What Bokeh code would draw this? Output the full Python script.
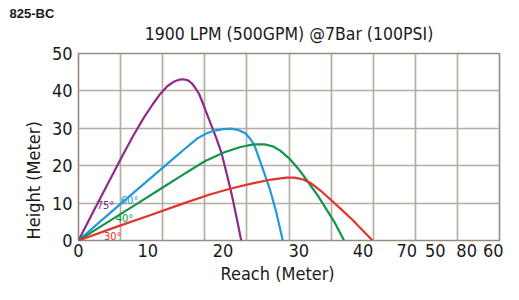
import numpy as np
from bokeh.plotting import figure
from bokeh.models import Range1d, FixedTicker, Title, LinearAxis
from bokeh.core.properties import value
from bokeh.embed import file_html
from bokeh.resources import INLINE

# ---------------- data ----------------
model_text = "825-BC"
title_text = "1900 LPM (500GPM) @7Bar (100PSI)"
x_title = "Reach  (Meter)"
y_title = "Height (Meter)"

x_tick_labels = ["0", "10", "20", "30", "40", "70", "50", "80", "60"]
x_tick_pos = [0, 9.5, 19.8, 30.2, 39.0, 45.0, 48.9, 53.2, 57.0]
y_ticks = [0, 10, 20, 30, 40, 50]

reach_75 = [0, 2.0, 4.0, 6.0, 7.5, 9.0, 10.2, 11.2, 12.2, 13.2, 13.8, 14.4, 15.0, 15.5, 15.9, 16.5, 17.0, 17.9, 18.9, 19.6, 20.45, 21.1, 21.8, 22.3]
height_75 = [0, 7.6, 15.1, 22.6, 28.0, 33.0, 36.5, 39.2, 41.3, 42.6, 43.0, 43.1, 42.8, 42.1, 41.1, 39.3, 36.9, 32.3, 27.3, 23.4, 16.8, 11.4, 4.9, 0]

reach_60 = [0, 3, 6, 9, 12, 14.5, 16.3, 17.5, 18.6, 19.8, 20.9, 22.0, 22.9, 23.6, 24.1, 25.0, 26.2, 27.1, 28.0]
height_60 = [0, 5.1, 10.2, 15.2, 20.2, 24.4, 27.3, 28.6, 29.4, 29.8, 29.9, 29.5, 28.6, 27.0, 25.5, 20.6, 13.9, 7.6, 0]

reach_40 = [0, 4, 8, 11, 14.5, 17.3, 20, 22.2, 24.0, 25.5, 26.6, 27.6, 28.9, 30.2, 31.6, 32.8, 33.9, 35.2, 36.4]
height_40 = [0, 4.9, 9.8, 13.5, 17.8, 21.2, 23.6, 25.0, 25.7, 25.7, 25.2, 24.1, 21.9, 19.0, 15.3, 12.0, 8.6, 4.5, 0]

reach_30 = [0, 5, 10, 14.5, 18, 20.9, 23.7, 26.4, 28.5, 29.6, 30.8, 31.8, 33.2, 34.8, 36.2, 37.5, 38.9, 40.3]
height_30 = [0, 3.5, 6.9, 10.0, 12.3, 13.9, 15.2, 16.3, 16.8, 16.8, 16.3, 15.4, 13.3, 10.5, 8.0, 5.6, 2.8, 0]

angle_labels = ["75°", "60°", "40°", "30°"]
angle_label_x = [3.7, 7.0, 6.3, 4.7]
angle_label_y = [9.4, 10.6, 5.9, 1.1]

colors = ["#8c2b8c", "#1f9ad8", "#14934b", "#e2332c"]

# ---------------- figure ----------------
X_MAX = 57.7
FONT = "DejaVu Sans Condensed"
INK = "#1a1a1a"

p = figure(width=503, height=284, output_backend="svg", toolbar_location=None,
           x_range=Range1d(0, X_MAX), y_range=Range1d(0, 50),
           min_border_left=78, min_border_right=4, min_border_top=53, min_border_bottom=44)
p.background_fill_color = "white"
p.border_fill_color = "white"
p.outline_line_color = "#978b80"
p.outline_line_width = 1.6

grid_color = "#b5aca2"
p.xgrid.ticker = FixedTicker(ticks=list(np.linspace(0, X_MAX, 11)))
p.ygrid.ticker = FixedTicker(ticks=y_ticks)
for g in (p.xgrid, p.ygrid):
    g.grid_line_color = grid_color
    g.grid_line_width = 1.7

p.xaxis.ticker = FixedTicker(ticks=x_tick_pos)
p.xaxis.major_label_overrides = {pos: lab for pos, lab in zip(x_tick_pos, x_tick_labels)}
p.yaxis.ticker = FixedTicker(ticks=y_ticks)
for ax in (p.xaxis, p.yaxis):
    ax.axis_line_color = None
    ax.major_tick_line_color = None
    ax.minor_tick_line_color = None
    ax.major_tick_out = 0
    ax.major_tick_in = 0
    ax.major_label_text_font = FONT
    ax.major_label_text_font_size = "18px"
    ax.major_label_text_color = INK
p.xaxis.major_label_standoff = 3
p.yaxis.major_label_standoff = 6

# main chart title carried by a tick-less axis above the frame
top_axis = LinearAxis(ticker=FixedTicker(ticks=[]), axis_label=title_text,
                      axis_label_text_font=FONT, axis_label_text_font_size="17.5px",
                      axis_label_text_font_style="normal", axis_label_text_color=INK,
                      axis_label_standoff=10, axis_line_color=None,
                      major_tick_line_color=None, minor_tick_line_color=None,
                      major_tick_out=0, major_tick_in=0, major_label_standoff=0)
p.add_layout(top_axis, "above")

for xs, ys, c in zip([reach_75, reach_60, reach_40, reach_30],
                     [height_75, height_60, height_40, height_30], colors):
    p.line(xs, ys, line_color=c, line_width=2.2)

p.text(x=angle_label_x, y=angle_label_y, text=angle_labels, text_color=colors,
       text_font=value(FONT), text_font_size="11px", text_align="center",
       text_baseline="middle")

# model code as the outermost title
p.title.text = model_text
p.title.align = "left"
p.title.offset = -69
p.title.text_font = "Liberation Sans"
p.title.text_font_style = "bold"
p.title.text_font_size = "13px"
p.title.text_color = INK
p.title.standoff = 0

p.add_layout(Title(text=x_title, align="left", offset=142, text_font=FONT,
                   text_font_style="normal", text_font_size="18px", text_color=INK,
                   standoff=2), "below")
p.add_layout(Title(text=y_title, align="left", offset=1, text_font=FONT,
                   text_font_style="normal", text_font_size="18px", text_color=INK,
                   standoff=9), "left")

open("out.html", "w").write(file_html(p, INLINE))
